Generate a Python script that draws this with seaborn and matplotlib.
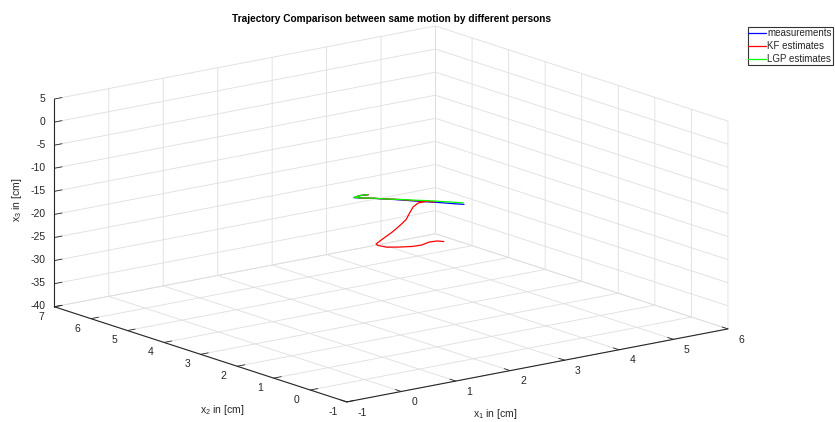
import numpy as np
import pandas as pd
import seaborn as sns
import matplotlib
matplotlib.use("Agg")
import matplotlib.pyplot as plt
from mpl_toolkits.mplot3d import proj3d

# ---------------- data (cm) ----------------
meas_x1 = [3.02, 2.93, 2.84, 2.75, 2.66, 2.57, 2.48, 2.39, 2.30, 2.21, 2.10, 2.01, 2.15, 2.28]
meas_x2 = [1.78, 1.91, 2.06, 2.20, 2.34, 2.48, 2.62, 2.76, 2.90, 3.03, 3.16, 3.29, 3.33, 3.30]
meas_x3 = [-13.45, -13.45, -13.45, -13.45, -13.5, -13.5, -13.5, -13.5, -13.55, -13.55, -13.6, -13.6, -13.6, -13.6]

kf_x1 = [1.44, 1.38, 1.25, 1.06, 0.90, 0.73, 0.58, 0.54, 0.57, 0.82, 1.18, 1.52, 1.80, 2.09,
         2.34, 2.54, 2.69, 2.77, 2.68, 2.58, 2.50, 2.40, 2.30, 2.21, 2.11, 2.03, 2.16, 2.28]
kf_x2 = [-0.02, 0.08, 0.10, 0.02, 0.04, 0.14, 0.26, 0.44, 0.54, 0.74, 1.01, 1.30, 1.55, 1.88,
         2.16, 2.32, 2.32, 2.22, 2.37, 2.50, 2.64, 2.78, 2.91, 3.04, 3.17, 3.29, 3.34, 3.30]
kf_x3 = [-13.3, -13.3, -13.3, -13.3, -13.3, -13.3, -13.3, -13.3, -13.3, -13.35,
         -13.35, -13.4, -13.4, -13.4, -13.45, -13.45, -13.45, -13.45, -13.5, -13.5,
         -13.5, -13.5, -13.55, -13.55, -13.6, -13.6, -13.6, -13.6]

lgp_x1 = [3.03, 2.94, 2.86, 2.77, 2.68, 2.58, 2.50, 2.40, 2.31, 2.22, 2.11, 2.02, 2.15, 2.28]
lgp_x2 = [1.82, 1.95, 2.09, 2.22, 2.36, 2.50, 2.63, 2.77, 2.90, 3.04, 3.17, 3.30, 3.34, 3.31]
lgp_x3 = [-13.25, -13.25, -13.3, -13.3, -13.35, -13.4, -13.45, -13.5, -13.55, -13.55, -13.6, -13.6, -13.6, -13.6]

series_names = ["measurements", "KF estimates", "LGP estimates"]
series_colors = ["#0000ff", "#ff0000", "#00ff00"]

x1_ticks = [-1, 0, 1, 2, 3, 4, 5, 6]
x2_ticks = [-1, 0, 1, 2, 3, 4, 5, 6, 7]
x3_ticks = [-40, -35, -30, -25, -20, -15, -10, -5, 0, 5]

title_text = "Trajectory Comparison between same motion by different persons"

# ---------------- style ----------------
sns.set_theme(style="white")
plt.rcParams["font.family"] = ["Liberation Sans", "DejaVu Sans"]
plt.rcParams["mathtext.fontset"] = "custom"
plt.rcParams["mathtext.rm"] = "Liberation Sans"
plt.rcParams["mathtext.it"] = "Liberation Sans:italic"
plt.rcParams["axes.unicode_minus"] = False
plt.rcParams["grid.color"] = "#dedede"
plt.rcParams["grid.linewidth"] = 0.6

frames = []
for name, xs, ys, zs in [("measurements", meas_x1, meas_x2, meas_x3),
                         ("KF estimates", kf_x1, kf_x2, kf_x3),
                         ("LGP estimates", lgp_x1, lgp_x2, lgp_x3)]:
    frames.append(pd.DataFrame({"series": name, "x1": xs, "x2": ys, "x3": zs}))
df = pd.concat(frames, ignore_index=True)
palette = dict(zip(series_names, sns.color_palette(series_colors)))

W_PX, H_PX = 835, 422
fig = plt.figure(figsize=(W_PX / 100, H_PX / 100), dpi=100)
ax = fig.add_subplot(projection="3d", proj_type="ortho")
ax.apply_aspect = lambda position=None: None  # allow MATLAB-like stretch-to-fill
ax.set_box_aspect((1, 1, 1))
ax.view_init(elev=30, azim=-127.5)

handles = []
for name in series_names:
    d = df[df["series"] == name]
    (ln,) = ax.plot(d["x1"], d["x2"], d["x3"], color=palette[name], lw=0.9, label=name)
    handles.append(ln)

ax.set_xlim(-1, 6)
ax.set_ylim(-1, 7)
ax.set_zlim(-40, 5)
ax.set_xticks(x1_ticks)
ax.set_yticks(x2_ticks)
ax.set_zticks(x3_ticks)
ax.tick_params(labelsize=7.5, colors="#262626")
ax.xaxis.set_tick_params(pad=0)
ax.yaxis.set_tick_params(pad=0)
ax.zaxis.set_tick_params(pad=-5)

for axis in (ax.xaxis, ax.yaxis, ax.zaxis):
    axis.set_pane_color((1, 1, 1, 0))
    axis.pane.set_edgecolor("#dedede")
    axis.line.set_color("#262626")
    axis.line.set_linewidth(0.8)
    axis._axinfo["tick"]["inward_factor"] = 0.0
    axis._axinfo["tick"]["outward_factor"] = 0.25
    axis._axinfo["tick"]["linewidth"] = {True: 0.6, False: 0.5}

for t in ax.get_xticklabels():
    t.set_ha("left"); t.set_va("center")
for t in ax.get_yticklabels():
    t.set_ha("center"); t.set_va("center")
for t in ax.get_zticklabels():
    t.set_ha("right"); t.set_va("center")

fig.canvas.draw()

# fit the projected box onto the reference pixel corners (least squares)
def to_disp(x, y, z):
    M = ax.get_proj()
    xs, ys, _ = proj3d.proj_transform(np.array([x], float), np.array([y], float),
                                      np.array([z], float), M)
    return ax.transData.transform(np.column_stack([xs, ys]))[0]

pos = ax.get_position()
corners = [(-1, -1, -40), (6, -1, -40), (-1, 7, -40), (-1, 7, 5), (6, 7, 5)]
target_px = [(346.7, 403.3), (728.3, 329.3), (54.0, 305.0), (55.0, 97.0), (435.0, 28.0)]
sx, sy, tx, ty = [], [], [], []
for c, (px, py) in zip(corners, target_px):
    d = to_disp(*c)
    sx.append((d[0] / W_PX - pos.x0) / pos.width)
    sy.append((d[1] / H_PX - pos.y0) / pos.height)
    tx.append(px / W_PX)
    ty.append((H_PX - py) / H_PX)
w_new, x0_new = np.polyfit(sx, tx, 1)
h_new, y0_new = np.polyfit(sy, ty, 1)
ax.set_position([x0_new, y0_new, w_new, h_new])

ax.set_xlabel("")
ax.set_ylabel("")
ax.set_zlabel("")

fig.text(495 / W_PX, 1 - 414 / H_PX, r"x$_\mathrm{1}$ in [cm]", ha="center", va="center",
         fontsize=7.5, color="#262626")
fig.text(222 / W_PX, 1 - 410 / H_PX, r"x$_\mathrm{2}$ in [cm]", ha="center", va="center",
         fontsize=7.5, color="#262626")
fig.text(17 / W_PX, 1 - 200 / H_PX, r"x$_\mathrm{3}$ in [cm]", ha="center", va="center",
         fontsize=7.5, color="#262626", rotation=90)
fig.text(391 / W_PX, 1 - 18.5 / H_PX, title_text, ha="center", va="center",
         fontsize=7.3, fontweight="bold", color="black")

leg = fig.legend(handles, series_names, loc="upper left",
                 bbox_to_anchor=(747.5 / W_PX, 1 - 27 / H_PX), frameon=True, fancybox=False,
                 fontsize=7, handlelength=1.8, borderpad=0.1, labelspacing=0.32,
                 handletextpad=0.15, borderaxespad=0)
leg.get_frame().set_edgecolor("#333333")
leg.get_frame().set_linewidth(0.8)
leg.get_frame().set_alpha(1)

fig.savefig("out.png", dpi=100)
